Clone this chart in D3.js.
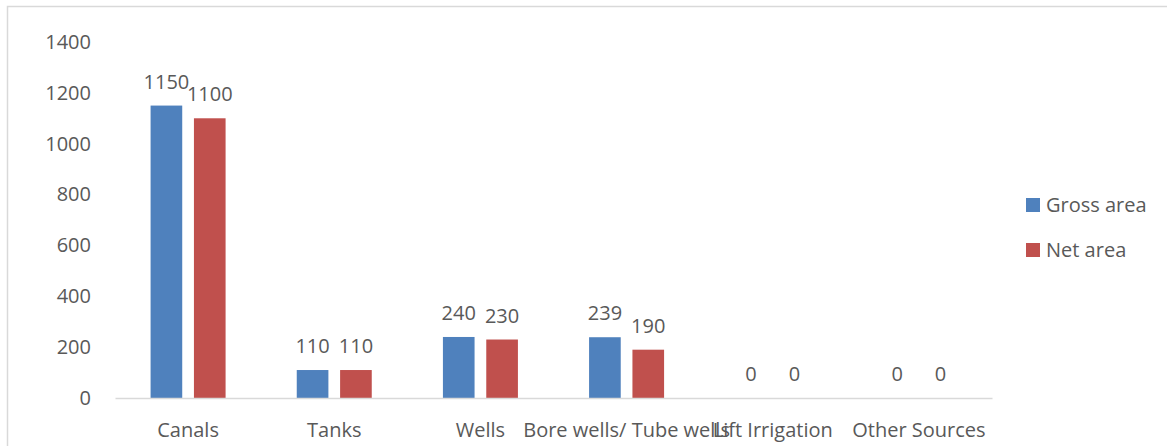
<!DOCTYPE html>
<html>
<head>
  <title>Irrigation sources</title>
  <script src="https://d3js.org/d3.v7.min.js"></script>
  <style>
    body { margin: 0; background: #fff; }
    text { font-family: "Open Sans", sans-serif; fill: #595959; }
  </style>
</head>
<body>
<script>
// data
var categories = ["Canals", "Tanks", "Wells", "Bore wells/ Tube wells", "Lift Irrigation", "Other Sources"];
var grossArea = [1150, 110, 240, 239, 0, 0];
var netArea = [1100, 110, 230, 190, 0, 0];
var seriesNames = ["Gross area", "Net area"];
var yTicks = [0, 200, 400, 600, 800, 1000, 1200, 1400];

var colors = ["#4f81bd", "#c0504d"];
var W = 1167, H = 446;
var plot = { left: 115, right: 992, top: 42, bottom: 398 };
var fs = "20px";

var svg = d3.select("body").append("svg")
    .attr("width", W)
    .attr("height", H);

// chart frame
svg.append("path")
    .attr("d", "M7.5," + H + "V6.5H" + W)
    .attr("fill", "none")
    .attr("stroke", "#d9d9d9")
    .attr("stroke-width", 1.5);

var x0 = d3.scaleBand()
    .domain(categories)
    .range([plot.left, plot.right]);

var x1 = d3.scaleBand()
    .domain(seriesNames)
    .range([0, 75])
    .paddingInner(0.27);

var y = d3.scaleLinear()
    .domain([0, 1400])
    .range([plot.bottom, plot.top]);

// y axis labels
var yAxis = svg.append("g")
    .attr("transform", "translate(91,0)")
    .call(d3.axisLeft(y).tickValues(yTicks).tickFormat(d3.format("d")).tickSize(0).tickPadding(0));
yAxis.select(".domain").remove();
yAxis.selectAll("text").style("font-size", fs).attr("fill", "#595959");

var rows = categories.map(function(c, i) {
  return { cat: c, vals: [grossArea[i], netArea[i]] };
});

var groups = svg.selectAll(".grp")
    .data(rows)
  .enter().append("g")
    .attr("class", "grp")
    .attr("transform", function(d) {
      return "translate(" + (x0(d.cat) + x0.bandwidth() / 2 - 37.5) + ",0)";
    });

groups.selectAll("rect")
    .data(function(d) { return d.vals.map(function(v, j) { return { s: seriesNames[j], v: v, j: j }; }); })
  .enter().append("rect")
    .attr("x", function(d) { return x1(d.s); })
    .attr("y", function(d) { return y(d.v); })
    .attr("width", x1.bandwidth())
    .attr("height", function(d) { return y(0) - y(d.v); })
    .attr("fill", function(d) { return colors[d.j]; });

groups.selectAll(".lbl")
    .data(function(d) { return d.vals.map(function(v, j) { return { s: seriesNames[j], v: v }; }); })
  .enter().append("text")
    .attr("class", "lbl")
    .attr("x", function(d) { return x1(d.s) + x1.bandwidth() / 2; })
    .attr("y", function(d) { return y(d.v) - 17; })
    .attr("text-anchor", "middle")
    .style("font-size", fs)
    .text(function(d) { return d.v; });

// x axis
var xAxis = svg.append("g")
    .attr("transform", "translate(0," + plot.bottom + ")")
    .call(d3.axisBottom(x0).tickSize(0).tickPadding(25));
xAxis.select(".domain")
    .attr("stroke", "#d9d9d9")
    .attr("stroke-width", 1.5);
xAxis.selectAll("text").style("font-size", fs).attr("fill", "#595959");

// legend
var legend = svg.selectAll(".leg")
    .data(seriesNames)
  .enter().append("g")
    .attr("class", "leg")
    .attr("transform", function(d, i) { return "translate(1026," + (198 + i * 45) + ")"; });
legend.append("rect")
    .attr("width", 14)
    .attr("height", 14)
    .attr("fill", function(d, i) { return colors[i]; });
legend.append("text")
    .attr("x", 20)
    .attr("y", 7)
    .attr("dy", "0.35em")
    .style("font-size", fs)
    .text(function(d) { return d; });
</script>
</body>
</html>
